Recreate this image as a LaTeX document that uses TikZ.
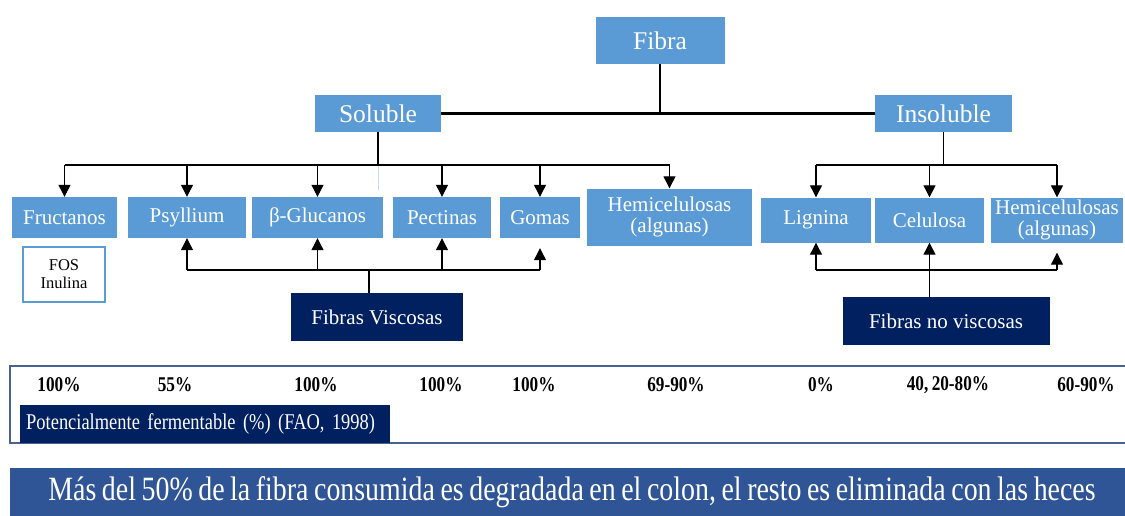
\documentclass[tikz,border=0pt]{standalone}
\usepackage{fontspec}
\setmainfont{Liberation Serif}
\newfontfamily\narrowserif[FakeStretch=0.82,WordSpace=0.8]{Liberation Serif}
\usetikzlibrary{arrows.meta}
\definecolor{cajaazul}{HTML}{5B9BD5}
\definecolor{marino}{HTML}{002060}
\definecolor{franja}{HTML}{2F5597}
\definecolor{borde}{HTML}{4A6290}

\begin{document}
\begin{tikzpicture}[x=1pt,y=-1pt,
		caja/.style={fill=cajaazul,text=white,inner sep=0pt,align=center,font=\fontsize{21}{21}\selectfont},
		grande/.style={caja,font=\fontsize{25.5}{27}\selectfont},
		oscura/.style={fill=marino,text=white,inner sep=0pt,font=\fontsize{21}{23}\selectfont},
		linea/.style={line width=1.2pt},
		flecha/.style={linea,-{Triangle[length=12pt,width=12pt]}},
		pct/.style={font=\narrowserif\bfseries\fontsize{21}{23}\selectfont}]
		\useasboundingbox (0,0) rectangle (1125,515);
		% nivel superior
		\node[grande,minimum width=129,minimum height=47] (fibra) at (660,40.5) {Fibra};
		\node[grande,minimum width=126,minimum height=37] (sol) at (378,113.5) {Soluble};
		\node[grande,minimum width=137,minimum height=37] (insol) at (943.5,113.5) {Insoluble};
		\draw[line width=2.2pt] (sol.east) -- (insol.west);
		\draw[linea] (fibra.south) -- (fibra.south |- sol.east);
		% solubles
		\node[caja,minimum width=105,minimum height=41] (fruc) at (64.5,217.5) {Fructanos};
		\node[caja,minimum width=118,minimum height=41] (psy) at (187,217.5) {Psyllium};
		\node[caja,minimum width=131,minimum height=41] (bglu) at (317.5,217.5) {β-Glucanos};
		\node[caja,minimum width=98,minimum height=41] (pect) at (442,217.5) {Pectinas};
		\node[caja,minimum width=80,minimum height=41] (gom) at (540,217.5) {Gomas};
		\node[caja,minimum width=165,minimum height=57] (hemis) at (669.5,217) {Hemicelulosas\\(algunas)};
		\node[fill=white,draw=cajaazul,line width=1.2pt,minimum width=82,minimum height=55,align=center,
			font=\fontsize{16.5}{18}\selectfont] (fos) at (64,274.5) {FOS\\Inulina};
		\coordinate (sbus) at (378,165);
		\draw[cajaazul!35,line width=1pt] (sol.south) -- ++(0,58);
		\draw[linea] (sol.south) -- (sbus);
		\draw[linea] (fruc.north |- sbus) -- (hemis.north |- sbus);
		\foreach \n in {fruc,psy,bglu,pect,gom,hemis}
			\draw[flecha] (\n.north |- sbus) -- (\n.north);
		% viscosas
		\node[oscura,minimum width=172,minimum height=48] (visc) at (377,317) {Fibras Viscosas};
		\coordinate (vbus) at (369,270);
		\draw[linea] (visc.north -| vbus) -- (vbus);
		\draw[linea] (psy.south |- vbus) -- (gom.south |- vbus);
		\foreach \n in {psy,bglu,pect}
			\draw[flecha] (\n.south |- vbus) -- (\n.south);
		\draw[flecha] (gom.south |- vbus) -- ([yshift=-10pt]gom.south);
		% insolubles
		\node[caja,minimum width=110,minimum height=45] (lig) at (816,220) {Lignina};
		\node[caja,minimum width=109,minimum height=45] (cel) at (929.5,220) {Celulosa};
		\node[caja,minimum width=132,minimum height=45] (hemii) at (1057,220) {Hemicelulosas\\(algunas)};
		\coordinate (ibus) at (insol.south |- sbus);
		\draw[linea] (insol.south) -- (ibus);
		\draw[linea] (lig.north |- ibus) -- (hemii.north |- ibus);
		\foreach \n in {lig,cel,hemii}
			\draw[flecha] (\n.north |- ibus) -- (\n.north);
		% no viscosas
		\node[oscura,minimum width=207,minimum height=48] (novisc) at (946,321) {Fibras no viscosas};
		\draw[linea] (lig.south |- vbus) -- (hemii.south |- vbus);
		\draw[flecha] (lig.south |- vbus) -- (lig.south);
		\draw[flecha] (novisc.north -| cel.south) -- (cel.south);
		\draw[flecha] (hemii.south |- vbus) -- ([yshift=-10pt]hemii.south);
		% fermentabilidad
		\draw[borde,line width=1.2pt] (10,366) rectangle (1135,443);
		\foreach \x/\t [count=\i] in {59/100\%,175/55\%,316/100\%,441/100\%,534/100\%,676/69-90\%,821/0\%,948/{40, 20-80\%},1086/60-90\%}
			\node[pct] (p\i) at (\x,385) {\t};
		\node[fill=marino,text=white,anchor=west,inner xsep=6pt,inner ysep=0pt,minimum height=38,
			text width=358pt,align=left,font=\narrowserif\fontsize{22.5}{24}\selectfont] (fao) at (20,424) {Potencialmente fermentable (\%) (FAO, 1998)};
		% franja inferior
		\fill[franja] (10,468) rectangle (1135,520);
		\node[text=white,font=\narrowserif\fontsize{34}{36}\selectfont] (nota) at (572,492)
			{Más del 50\% de la fibra consumida es degradada en el colon, el resto es eliminada con las heces};
	\end{tikzpicture}
\end{document}
